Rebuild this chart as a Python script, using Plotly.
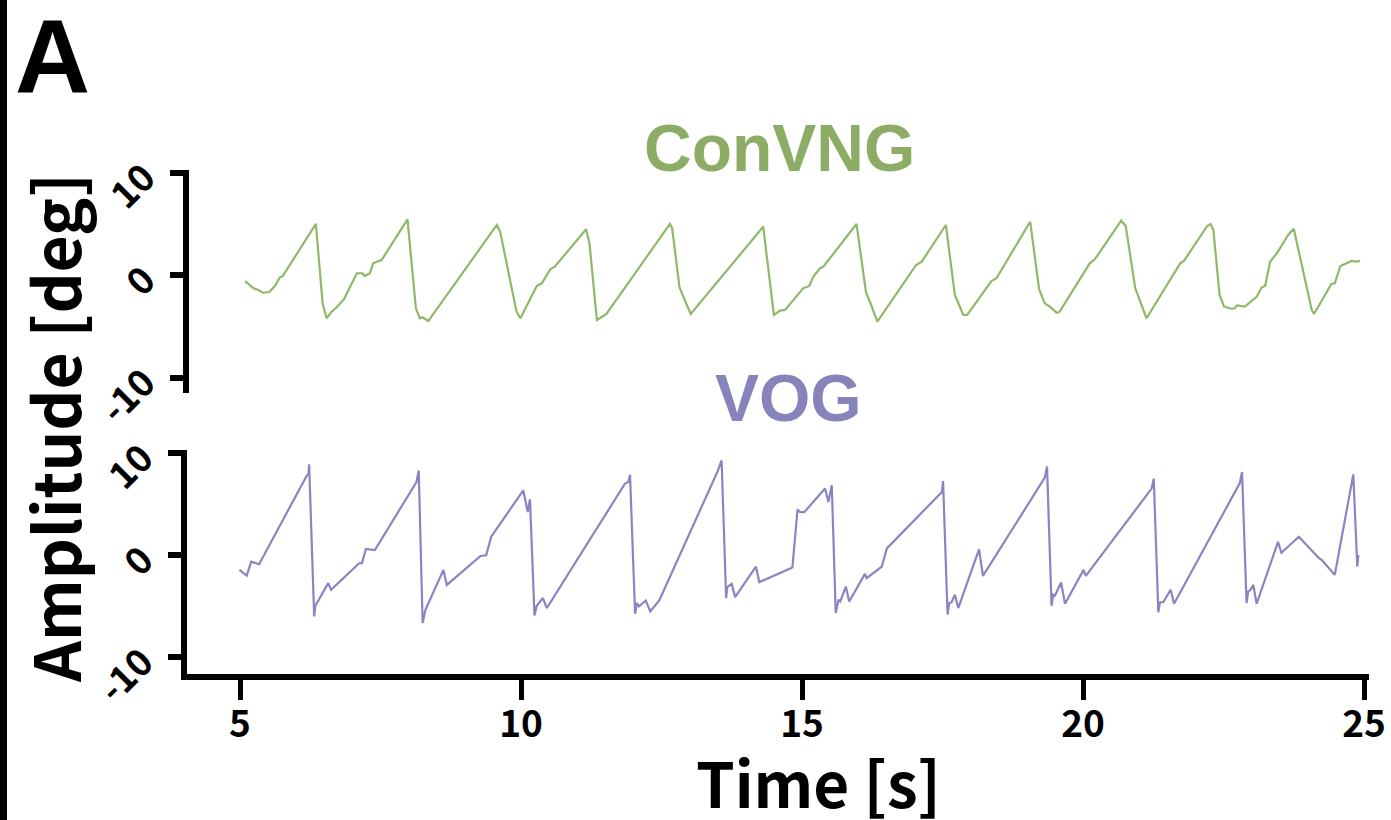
import plotly.graph_objects as go

# ConVNG horizontal eye position
convng_t = [5.09, 5.24, 5.30, 5.41, 5.52, 5.62, 5.71, 5.76, 6.35, 6.47, 6.54, 6.63, 6.72, 6.85,
            6.96, 7.08, 7.18, 7.22, 7.31, 7.37, 7.43, 7.52, 7.98, 8.13, 8.20, 8.25, 8.35, 9.57,
            9.63, 9.92, 9.99, 10.28, 10.37, 10.52, 10.60, 11.16, 11.22, 11.35, 11.52, 12.65,
            12.69, 12.82, 12.90, 13.02, 14.31, 14.50, 14.61, 14.70, 15.02, 15.13, 15.20, 15.32,
            15.38, 15.97, 16.14, 16.22, 16.34, 17.03, 17.13, 17.56, 17.72, 17.87, 17.94, 18.37,
            18.46, 19.06, 19.22, 19.32, 19.41, 19.53, 19.58, 20.12, 20.21, 20.68, 20.76, 20.93,
            21.13, 21.73, 21.80, 22.21, 22.27, 22.32, 22.43, 22.51, 22.64, 22.70, 22.74, 22.88,
            23.09, 23.18, 23.24, 23.33, 23.45, 23.65, 23.75, 24.07, 24.11, 24.42, 24.48, 24.58,
            24.78, 24.86, 24.93]
convng_deg = [-0.59, -1.30, -1.40, -1.73, -1.66, -1.07, -0.22, -0.10, 4.98, -2.76, -4.22, -3.58,
              -3.15, -2.37, -1.14, 0.17, 0.17, -0.10, 0.17, 1.14, 1.30, 1.46, 5.43, -3.25, -4.22,
              -4.13, -4.49, 4.88, 4.22, -3.58, -4.22, -1.07, -0.81, 0.56, 0.81, 4.46, 3.02, -4.39,
              -3.80, 4.98, 4.56, -1.20, -2.27, -3.80, 4.71, -3.90, -3.48, -3.41, -1.30, -1.07,
              -0.17, 0.65, 0.81, 4.98, -1.73, -2.76, -4.56, 0.98, 1.30, 4.88, -1.95, -3.90, -3.90,
              -0.59, -0.32, 5.20, -1.40, -2.76, -3.09, -3.68, -3.61, 1.14, 1.53, 5.30, 4.78, -1.30,
              -4.22, 1.14, 1.40, 4.78, 4.98, 4.39, -1.95, -3.09, -3.29, -3.25, -2.96, -3.09, -2.12,
              -1.20, -1.07, 1.30, 2.12, 3.90, 4.52, -3.41, -3.80, -0.88, -0.81, 0.88, 1.37, 1.30,
              1.37]

# VOG horizontal eye position
vog_t = [4.99, 5.12, 5.20, 5.34, 6.19, 6.22, 6.23, 6.32, 6.34, 6.57, 6.62, 7.12, 7.17, 7.24,
         7.40, 8.14, 8.18, 8.25, 8.30, 8.62, 8.68, 9.28, 9.38, 9.47, 10.04, 10.12, 10.16, 10.24,
         10.28, 10.39, 10.46, 11.85, 11.91, 11.94, 12.03, 12.06, 12.10, 12.22, 12.30, 12.46,
         13.50, 13.57, 13.65, 13.67, 13.75, 13.81, 14.18, 14.24, 14.80, 14.83, 14.92, 14.96,
         15.04, 15.41, 15.47, 15.53, 15.60, 15.65, 15.68, 15.78, 15.84, 16.12, 16.15, 16.42,
         16.51, 17.49, 17.51, 17.59, 17.62, 17.66, 17.72, 17.78, 18.15, 18.22, 19.32, 19.36,
         19.44, 19.47, 19.50, 19.61, 19.68, 20.01, 20.05, 21.22, 21.26, 21.34, 21.37, 21.43,
         21.56, 21.62, 22.79, 22.83, 22.91, 22.94, 22.98, 23.03, 23.09, 23.47, 23.53, 23.84,
         24.20, 24.25, 24.48, 24.81, 24.88, 24.90]
vog_deg = [-1.46, -2.02, -0.65, -0.91, 7.80, 7.97, 8.88, -6.02, -4.98, -2.76, -3.41, -0.81,
           -0.81, 0.59, 0.49, 7.15, 8.29, -6.66, -5.37, -1.46, -2.93, -0.10, -0.03, 1.79, 6.34,
           4.22, 5.46, -5.92, -4.98, -4.22, -5.20, 7.00, 7.15, 7.87, -5.76, -4.71, -5.04, -4.46,
           -5.53, -4.46, 8.22, 9.27, -4.22, -3.15, -2.83, -4.13, -1.14, -2.66, -1.30, -1.20,
           4.46, 4.22, 4.20, 6.51, 5.20, 6.83, -5.69, -4.39, -4.56, -3.09, -4.56, -1.85, -2.27,
           -1.14, 0.65, 6.18, 7.25, -5.85, -4.71, -4.65, -3.90, -5.20, 0.56, -2.05, 7.58, 8.68,
           -4.98, -3.90, -4.00, -2.70, -4.78, -1.46, -2.05, 6.51, 7.48, -5.63, -4.65, -4.61,
           -3.41, -4.78, 7.05, 8.13, -4.71, -3.58, -3.41, -2.93, -4.78, 1.30, 0.22, 1.79, -0.32,
           -0.49, -1.95, 7.90, -1.14, 0.00]

y_ticks = [-10, 0, 10]
x_ticks = [5, 10, 15, 20, 25]

GREEN_LINE = "#8fb86b"
PURPLE_LINE = "#8985c2"
GREEN_TEXT = "#8dad66"
PURPLE_TEXT = "#8783bb"

W, H = 1391, 820


def px_x(p):
    return p / W


def px_y(p):
    return 1 - p / H


fig = go.Figure()
fig.add_trace(go.Scatter(x=convng_t, y=convng_deg, mode="lines",
                         line=dict(color=GREEN_LINE, width=2.2),
                         xaxis="x", yaxis="y", showlegend=False))
fig.add_trace(go.Scatter(x=vog_t, y=vog_deg, mode="lines",
                         line=dict(color=PURPLE_LINE, width=2.2),
                         xaxis="x2", yaxis="y2", showlegend=False))

tick_font = dict(family="Noto Sans CJK JP", size=37, color="black", weight="bold")

yaxis_common = dict(
    showgrid=False, zeroline=False, showline=True, linewidth=6, linecolor="black",
    ticks="outside", ticklen=13, tickwidth=6, tickcolor="black",
    tickvals=y_ticks, ticktext=[str(v) for v in y_ticks],
    tickangle=-45, tickfont=tick_font, ticklabelstandoff=18,
    fixedrange=True, automargin=False,
)

fig.update_layout(
    width=W, height=H,
    margin=dict(l=0, r=0, t=0, b=0, autoexpand=False),
    paper_bgcolor="white", plot_bgcolor="white",
    xaxis=dict(domain=[px_x(189), px_x(1369)],
               range=[5 - (240 - 189) / 56.2, 25 + (1369 - 1364) / 56.2],
               visible=False, anchor="y", automargin=False),
    yaxis=dict(domain=[px_y(393), px_y(170)],
               range=[(275 - 393) / 10.25, (275 - 170) / 10.25],
               anchor="x", **yaxis_common),
    xaxis2=dict(domain=[px_x(187), px_x(1369)],
                range=[5 - (240 - 187) / 56.2, 25 + (1369 - 1364) / 56.2],
                anchor="y2", showgrid=False, zeroline=False, showline=True,
                linewidth=6, linecolor="black", ticks="outside", ticklen=20,
                tickwidth=5, tickcolor="black", tickvals=x_ticks,
                ticktext=[str(v) for v in x_ticks], tickfont=tick_font,
                ticklabelstandoff=-7, automargin=False),
    yaxis2=dict(domain=[px_y(674), px_y(450)],
                range=[(555 - 674) / 10.2, (555 - 450) / 10.2],
                anchor="x2", **yaxis_common),
)

# Panel frame bar on the left edge
fig.add_shape(type="rect", xref="paper", yref="paper",
              x0=0, x1=px_x(7), y0=0, y1=1,
              fillcolor="black", line=dict(width=0))

annotations = [
    dict(text="A", x=px_x(13), y=px_y(56), xanchor="left", yanchor="middle",
         font=dict(family="Liberation Sans", size=104, color="black", weight="bold")),
    dict(text="ConVNG", x=px_x(779), y=px_y(148), xanchor="center", yanchor="middle",
         font=dict(family="Liberation Sans", size=66, color=GREEN_TEXT, weight="bold")),
    dict(text="VOG", x=px_x(788), y=px_y(398), xanchor="center", yanchor="middle",
         font=dict(family="Liberation Sans", size=66, color=PURPLE_TEXT, weight="bold")),
    dict(text="Amplitude [deg]", x=px_x(53), y=px_y(428), xanchor="center", yanchor="middle",
         textangle=-90,
         font=dict(family="Noto Sans CJK JP", size=64, color="black", weight="bold")),
    dict(text="Time [s]", x=px_x(819), y=px_y(781), xanchor="center", yanchor="middle",
         font=dict(family="Noto Sans CJK JP", size=62, color="black", weight="bold")),
]
for a in annotations:
    fig.add_annotation(xref="paper", yref="paper", showarrow=False, **a)

fig.write_html("out.html")
